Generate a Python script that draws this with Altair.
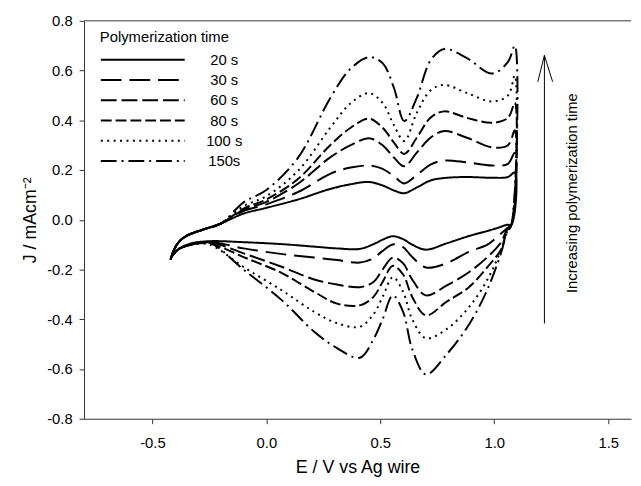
import altair as alt
import pandas as pd

# ---------------- data ----------------
series_names = ["20 s", "30 s", "60 s", "80 s", "100 s", "150s"]

# common start of the anodic (upper) sweep
E_start = [-0.42, -0.405, -0.38, -0.34, -0.28, -0.2]
J_start = [-0.16, -0.12, -0.085, -0.06, -0.04, -0.015]

# anodic (upper) branch
E_up = [-0.1, 0.0, 0.14, 0.28, 0.37, 0.45, 0.51, 0.56, 0.605, 0.66, 0.72, 0.78, 0.88, 0.99, 1.06, 1.09]
J_up_20 = [0.025, 0.048, 0.082, 0.124, 0.143, 0.152, 0.138, 0.118, 0.107, 0.13, 0.158, 0.168, 0.172, 0.169, 0.172, 0.19]
J_up_30 = [0.035, 0.062, 0.112, 0.185, 0.21, 0.218, 0.205, 0.175, 0.146, 0.18, 0.222, 0.238, 0.231, 0.218, 0.225, 0.27]
J_up_60 = [0.04, 0.072, 0.146, 0.251, 0.3, 0.328, 0.3, 0.25, 0.215, 0.27, 0.33, 0.357, 0.33, 0.291, 0.3, 0.36]
J_up_80 = [0.045, 0.082, 0.165, 0.3, 0.37, 0.407, 0.37, 0.31, 0.265, 0.33, 0.41, 0.436, 0.41, 0.39, 0.41, 0.47]
J_up_100 = [0.055, 0.095, 0.198, 0.37, 0.469, 0.509, 0.47, 0.38, 0.317, 0.43, 0.52, 0.542, 0.51, 0.476, 0.50, 0.58]
J_up_150 = [0.07, 0.12, 0.251, 0.489, 0.608, 0.654, 0.63, 0.53, 0.397, 0.49, 0.64, 0.687, 0.65, 0.588, 0.635, 0.70]

# switching point
E_turn = [1.075]
J_turn = [-0.02]

# cathodic (lower) branch, swept back
E_low = [1.055, 1.03, 0.97, 0.89, 0.79, 0.70, 0.64, 0.60, 0.555, 0.51, 0.47, 0.41, 0.31, 0.21, 0.07, -0.1, -0.25, -0.33, -0.38, -0.405, -0.42]
J_low_20 = [-0.02, -0.028, -0.045, -0.065, -0.095, -0.12, -0.1, -0.078, -0.066, -0.08, -0.098, -0.117, -0.115, -0.108, -0.098, -0.09, -0.086, -0.095, -0.115, -0.135, -0.152]
J_low_30 = [-0.035, -0.055, -0.1, -0.128, -0.175, -0.192, -0.15, -0.11, -0.099, -0.125, -0.155, -0.172, -0.162, -0.152, -0.138, -0.115, -0.088, -0.098, -0.115, -0.135, -0.155]
J_low_60 = [-0.04, -0.09, -0.15, -0.21, -0.265, -0.304, -0.24, -0.175, -0.152, -0.2, -0.25, -0.271, -0.26, -0.24, -0.19, -0.135, -0.09, -0.1, -0.115, -0.135, -0.155]
J_low_80 = [-0.045, -0.119, -0.19, -0.27, -0.33, -0.384, -0.31, -0.22, -0.185, -0.25, -0.31, -0.344, -0.337, -0.29, -0.215, -0.15, -0.095, -0.1, -0.115, -0.135, -0.155]
J_low_100 = [-0.05, -0.12, -0.24, -0.35, -0.44, -0.476, -0.40, -0.29, -0.231, -0.31, -0.38, -0.43, -0.416, -0.37, -0.285, -0.19, -0.1, -0.1, -0.115, -0.135, -0.155]
J_low_150 = [-0.053, -0.132, -0.28, -0.42, -0.542, -0.622, -0.52, -0.37, -0.304, -0.40, -0.48, -0.555, -0.516, -0.45, -0.325, -0.2, -0.092, -0.1, -0.115, -0.135, -0.155]

J_up_all = [J_up_20, J_up_30, J_up_60, J_up_80, J_up_100, J_up_150]
J_low_all = [J_low_20, J_low_30, J_low_60, J_low_80, J_low_100, J_low_150]

dash_patterns = [[1, 0], [21, 8], [16, 5], [11, 4], [2, 4.5], [16, 5, 2, 5]]

# annotation (arrow + text)
arrow_x = [1.22]
arrow_y = [-0.417]
arrow_y2 = [0.661]
head_x = [1.191, 1.22, 1.256]
head_y = [0.555, 0.661, 0.555]
note_x = [1.34]
note_y = [0.107]
note_text = ["Increasing polymerization time"]
top_y = [0.8]

x_ticks = [-0.5, 0.0, 0.5, 1.0, 1.5]
y_ticks = [-0.8, -0.6, -0.4, -0.2, 0.0, 0.2, 0.4, 0.6, 0.8]

# ---------------- build table ----------------
rows = []
for name, ju, jl in zip(series_names, J_up_all, J_low_all):
    E = E_start + E_up + E_turn + E_low
    J = J_start + ju + J_turn + jl
    for i, (e, j) in enumerate(zip(E, J)):
        rows.append({"E": e, "J": j, "series": name, "idx": i})
df = pd.DataFrame(rows)

FONT = "Liberation Sans"
xscale = alt.Scale(domain=[-0.8, 1.6], nice=False, zero=False)
yscale = alt.Scale(domain=[-0.8, 0.8], nice=False, zero=False)
lab = "datum.value < 0 ? '-' + format(abs(datum.value), '.1f') : format(datum.value, '.1f')"

xaxis = alt.Axis(title="E / V vs Ag wire", values=x_ticks, labelExpr=lab, grid=False,
                 tickSize=5, labelPadding=12, titlePadding=8)
yaxis = alt.Axis(title="J / mAcm\u207b\u00b2", values=y_ticks, labelExpr=lab, grid=False,
                 tickSize=5, labelPadding=7, titlePadding=7)


def X(field="E"):
    return alt.X(f"{field}:Q", scale=xscale, axis=xaxis)


def Y(field="J"):
    return alt.Y(f"{field}:Q", scale=yscale, axis=yaxis)


lines = alt.Chart(df).mark_line(color="black", strokeWidth=2, interpolate="catmull-rom", clip=True).encode(
    x=X(), y=Y(),
    strokeDash=alt.StrokeDash("series:N",
                              scale=alt.Scale(domain=series_names, range=dash_patterns),
                              legend=alt.Legend(title="Polymerization time", orient="none",
                                                legendX=16, legendY=9)),
    order="idx:Q",
)

top = alt.Chart(pd.DataFrame({"J": top_y})).mark_rule(color="#333", strokeWidth=1).encode(y=Y())

shaft = alt.Chart(pd.DataFrame({"E": arrow_x, "J": arrow_y, "J2": arrow_y2})).mark_rule(
    color="black", strokeWidth=1).encode(x=X(), y=Y(), y2="J2:Q")

head = alt.Chart(pd.DataFrame({"E": head_x, "J": head_y, "idx": [0, 1, 2]})).mark_line(
    color="black", strokeWidth=1).encode(x=X(), y=Y(), order="idx:Q")

note = alt.Chart(pd.DataFrame({"E": note_x, "J": note_y, "t": note_text})).mark_text(
    angle=270, font=FONT, fontSize=15, color="black", align="center", baseline="middle").encode(
    x=X(), y=Y(), text="t:N")

chart = alt.layer(lines, top, shaft, head, note).properties(
    width=554, height=403,
    autosize="none",
    padding={"left": 77, "top": 10, "right": 2, "bottom": 57},
).configure_view(stroke=None).configure_axis(
    labelFont=FONT, titleFont=FONT, labelFontSize=15, titleFontSize=18,
    titleFontWeight="normal", labelColor="black", titleColor="black",
    domainColor="#333", tickColor="#333",
).configure_legend(
    titleFont=FONT, labelFont=FONT, titleFontSize=15, labelFontSize=15,
    titleFontWeight="normal", titleColor="black", labelColor="black",
    symbolType="stroke", symbolSize=7225, symbolStrokeWidth=2, symbolStrokeColor="black",
    labelAlign="center", labelOffset=39, rowPadding=4.5, clipHeight=15, padding=0, titlePadding=8,
)

chart.save("out.html", embed_options={"renderer": "svg", "actions": False})
